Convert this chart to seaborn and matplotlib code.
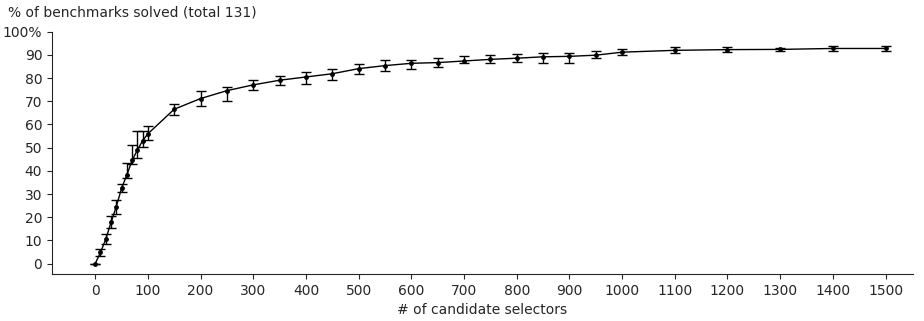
import matplotlib
matplotlib.use("Agg")
import matplotlib.pyplot as plt
import seaborn as sns
import numpy as np
import pandas as pd

selectors = [0, 10, 20, 30, 40, 50, 60, 70, 80, 90, 100, 150, 200, 250, 300, 350,
             400, 450, 500, 550, 600, 650, 700, 750, 800, 850, 900, 950, 1000,
             1100, 1200, 1300, 1400, 1500]
solved_pct = [0.0, 4.8, 10.5, 17.8, 24.6, 32.5, 38.2, 44.5, 49.0, 53.0, 56.0, 66.6,
              71.2, 74.6, 77.1, 79.1, 80.5, 81.9, 84.1, 85.4, 86.4, 86.7, 87.4,
              88.1, 88.6, 89.2, 89.4, 89.9, 91.2, 92.0, 92.3, 92.4, 92.8, 92.8]
err_upper = [0.0, 1.3, 2.3, 2.6, 3.0, 2.0, 5.0, 6.5, 8.0, 4.0, 3.5, 2.3, 3.4, 1.7,
             2.3, 2.0, 2.0, 2.2, 2.2, 2.4, 1.4, 1.9, 2.0, 2.0, 1.7, 1.6, 1.3, 1.9,
             1.3, 1.3, 1.1, 0.8, 1.2, 1.2]
err_lower = [0.0, 1.4, 2.2, 2.4, 3.0, 1.8, 1.2, 1.5, 3.5, 2.6, 2.7, 2.3, 3.4, 4.6,
             2.1, 2.0, 2.9, 2.5, 2.5, 2.2, 2.6, 1.9, 1.0, 1.4, 1.7, 2.6, 2.7, 1.4,
             1.2, 1.3, 1.1, 0.8, 1.2, 1.2]
x_ticks = list(range(0, 1501, 100))
y_ticks = list(range(0, 101, 10))
y_tick_labels = [str(v) for v in y_ticks[:-1]] + ["100%"]

sns.set_style("ticks")
plt.rcParams['font.family'] = ['DejaVu Sans']

df = pd.DataFrame({"selectors": selectors, "solved": solved_pct})

fig = plt.figure(figsize=(9.24, 3.21), dpi=100)
ax = fig.add_axes([0.0563, 0.1464, 0.9317, 0.7546])

ax.errorbar(df["selectors"], df["solved"], yerr=[err_lower, err_upper],
            fmt="none", ecolor="black", elinewidth=1.0, capsize=3.5, capthick=1.0,
            zorder=2)
sns.lineplot(data=df, x="selectors", y="solved", ax=ax, color="black",
             linewidth=1.0, marker="o", markersize=3.5, markeredgewidth=0,
             zorder=3)

ax.set_xlim(-82, 1552)
ax.set_ylim(-4.5, 100)
ax.set_xticks(x_ticks)
ax.set_yticks(y_ticks)
ax.set_yticklabels(y_tick_labels)
ax.tick_params(labelsize=10, length=3.5, width=0.8)
ax.set_xlabel("# of candidate selectors", fontsize=10)
ax.set_ylabel("")
sns.despine(ax=ax)
fig.text(0.009, 0.962, "% of benchmarks solved (total 131)", fontsize=10,
         ha="left", va="center")

fig.savefig("out.png", dpi=100)
